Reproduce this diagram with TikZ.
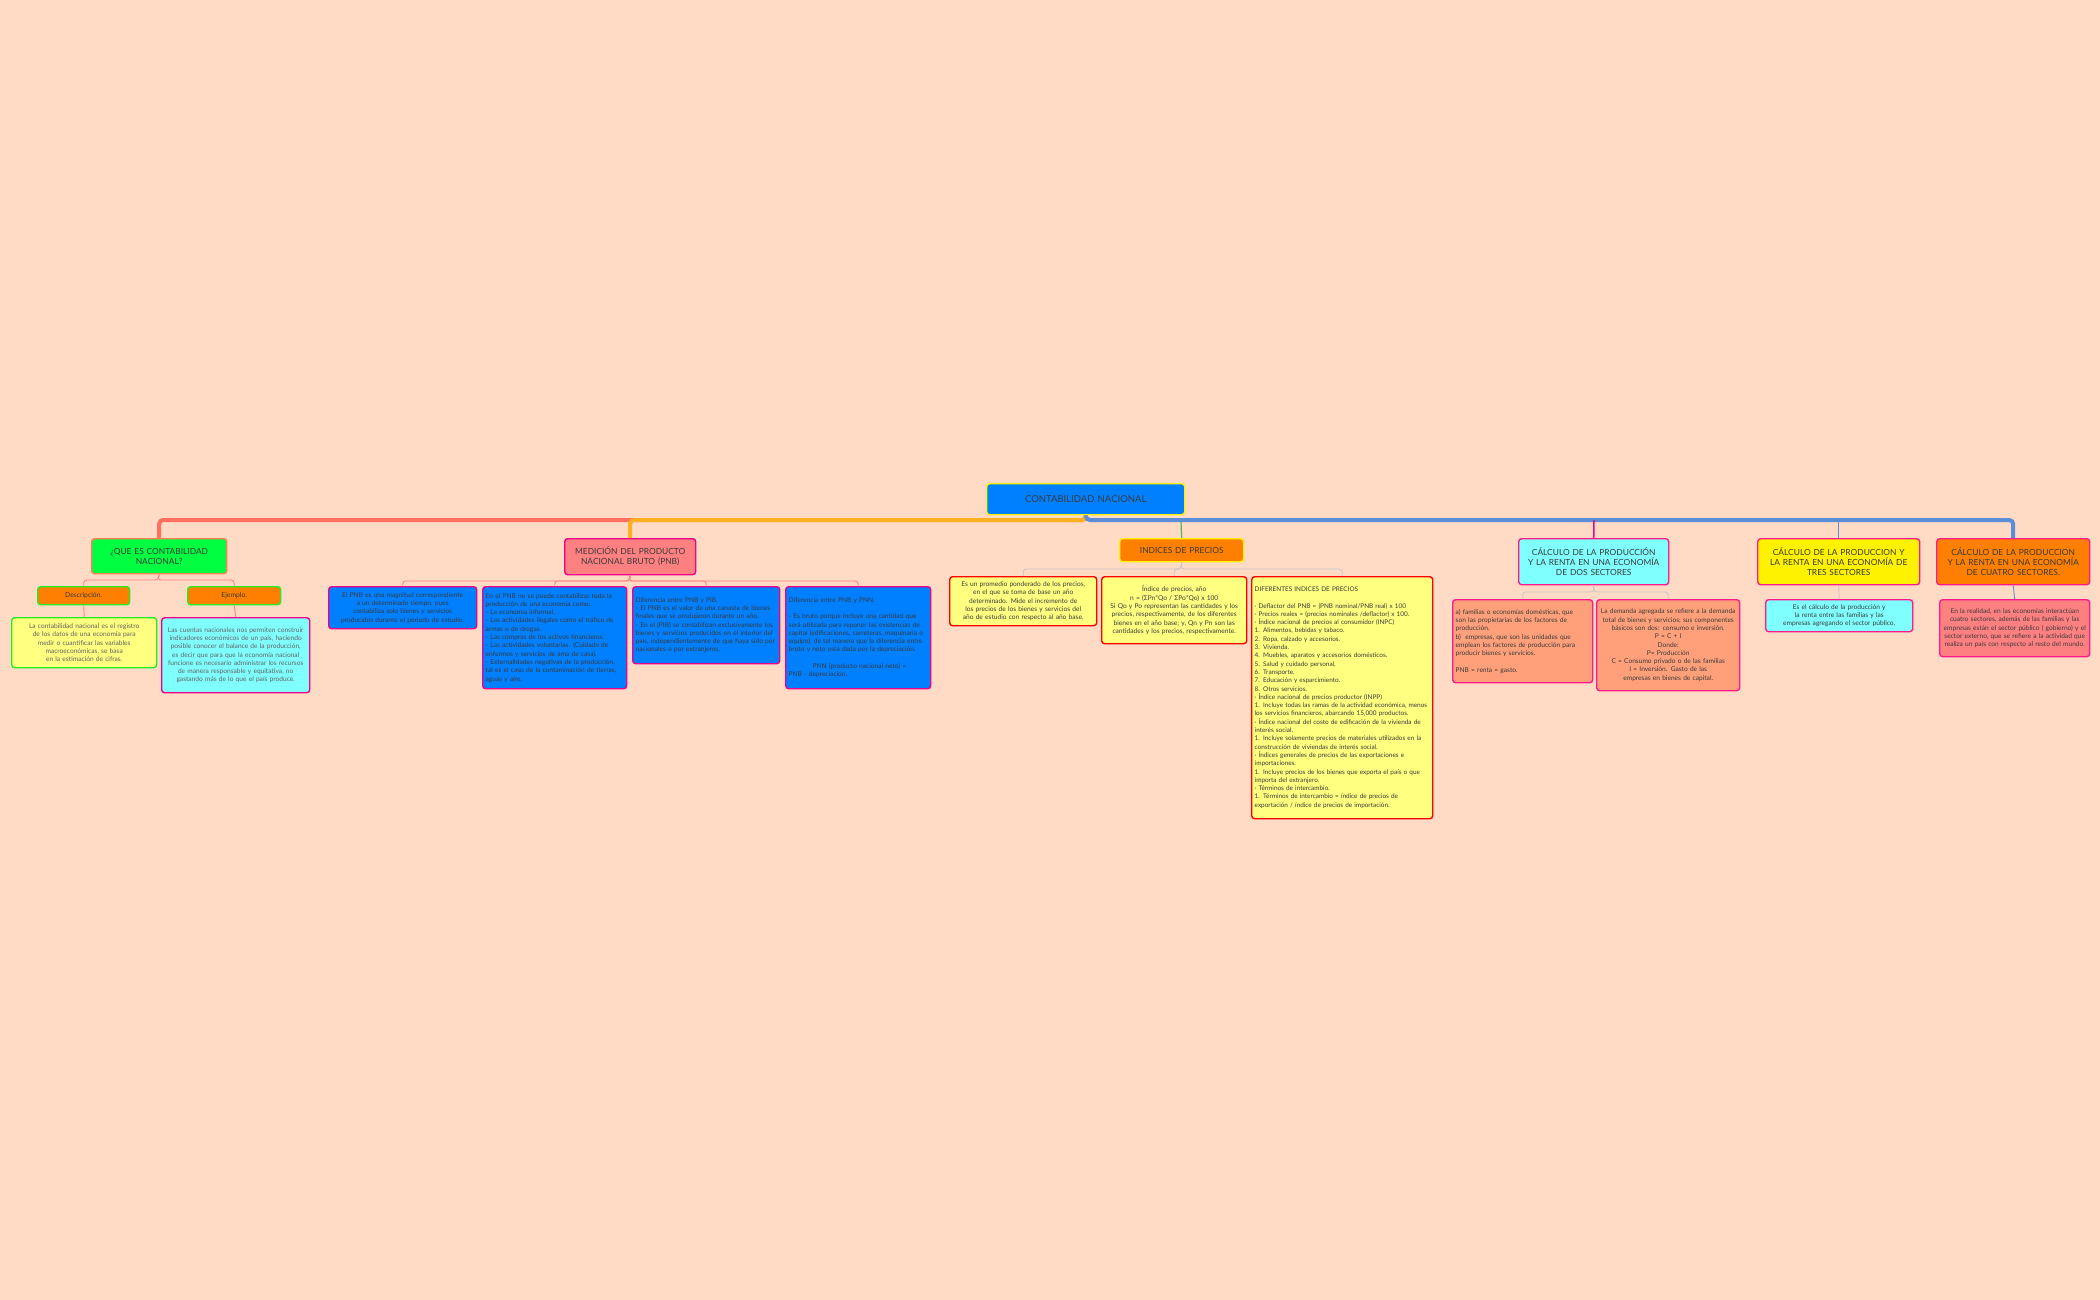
\documentclass[tikz,border=0pt]{standalone}
\usepackage{fontspec}
\setmainfont{Lato}
\hyphenpenalty=10000 \exhyphenpenalty=10000
\definecolor{bg}{HTML}{FFDBC5}
\definecolor{txt}{HTML}{3A3A3A}
\definecolor{bluef}{HTML}{0080FF}
\definecolor{greenf}{HTML}{00FF40}
\definecolor{greenb}{HTML}{22EE22}
\definecolor{coral}{HTML}{FF7F50}
\definecolor{salmon}{HTML}{FF8080}
\definecolor{orangef}{HTML}{FF8000}
\definecolor{cyanf}{HTML}{80FFFF}
\definecolor{lyel}{HTML}{FFFF80}
\definecolor{pinkb}{HTML}{FF1A8C}
\definecolor{lsal}{HTML}{FFA07A}
\definecolor{barred}{HTML}{FF7060}
\definecolor{barorange}{HTML}{FFB020}
\definecolor{barblue}{HTML}{5B8DD9}
\definecolor{linegrey}{HTML}{C8C8C8}
\tikzset{
  bx/.style={draw, rounded corners=3pt, line width=1.4pt, anchor=north west, inner sep=3pt,
     font=\fontsize{6.6}{8.3}\selectfont, text=txt},
  ttl/.style={bx, font=\fontsize{8.4}{10}\selectfont, align=center, inner sep=2pt},
  mainln/.style={line width=4pt, rounded corners=4pt},
  subln/.style={line width=0.9pt, rounded corners=3pt},
  tw/.style={text width=#1pt-5pt},
}
\begin{document}
\begin{tikzpicture}[x=1pt,y=-1pt]
\fill[bg] (0,0) rectangle (2100,1300);
\useasboundingbox (0,0) rectangle (2100,1300);

% root
\node[ttl, draw=yellow, fill=bluef, text width=194pt, minimum height=31pt, font=\fontsize{9.5}{11}\selectfont] (root) at (986,483) {CONTABILIDAD NACIONAL};

% level 1
\node[ttl, draw=coral, fill=greenf, text width=131pt, minimum height=35pt] (que) at (91,538) {¿QUE ES CONTABILIDAD\\NACIONAL?};
\node[ttl, draw=magenta, fill=salmon, text width=127pt, minimum height=36pt] (med) at (564,538) {MEDICIÓN DEL PRODUCTO\\NACIONAL BRUTO (PNB)};
\node[ttl, draw=yellow, fill=orangef, text width=120pt, minimum height=23pt] (ind) at (1119,538) {INDICES DE PRECIOS};
\node[ttl, draw=pinkb, fill=cyanf, text width=146pt, minimum height=46pt] (dos) at (1518,538) {CÁLCULO DE LA PRODUCCIÓN\\Y LA RENTA EN UNA ECONOMÍA\\DE DOS SECTORES};
\node[ttl, draw=pinkb, fill=yellow, text width=158pt, minimum height=46pt] (tres) at (1757,538) {CÁLCULO DE LA PRODUCCION Y\\LA RENTA EN UNA ECONOMÍA DE\\TRES SECTORES};
\node[ttl, draw=pinkb, fill=orangef, text width=149pt, minimum height=46pt] (cua) at (1936,538) {CÁLCULO DE LA PRODUCCION\\Y LA RENTA EN UNA ECONOMÍA\\DE CUATRO SECTORES.};

% main connectors
\draw[mainln, barred] (root.south) -- (1086,520) -| (que.north);
\draw[mainln, barorange] (root.south) -- (1086,520) -| (med.north);
\draw[mainln, barblue] (root.south) -- (1086,520) -| (cua.north);
\draw[line width=1.5pt, barblue] (1086,520) -| (tres.north);
\draw[line width=1.5pt, magenta] (1594,520) -- (dos.north);
\draw[line width=1.2pt, green!60!black!70] (1181,522) -- (ind.north);

% que branch
\node[ttl, draw=greenb, fill=orangef, text width=88pt, minimum height=18pt, font=\fontsize{6.8}{8}\selectfont] (desc) at (37,586) {Descripción.};
\node[ttl, draw=greenb, fill=orangef, text width=89pt, minimum height=18pt, font=\fontsize{6.8}{8}\selectfont] (ej) at (187,586) {Ejemplo.};
\node[bx, draw=greenb, fill=lyel, tw=144, minimum height=50pt, align=center, text=txt!80] (desct) at (11,617) {La contabilidad nacional es el registro de los datos de una economía para\\medir o cuantificar las variables macroeconómicas, se basa en la estimación de cifras.};
\node[bx, draw=magenta, fill=cyanf, tw=147, minimum height=75pt, align=center, text=txt!80] (ejt) at (161,617) {Las cuentas nacionales nos permiten construir indicadores económicos de un país, haciendo posible conocer el balance de la producción, es decir que para que la economía nacional funcione es necesario administrar los recursos de manera responsable y equitativa, no gastando más de lo que el país produce.};
\draw[subln, salmon] (que.south) -- (158,580) -| (desc.north);
\draw[subln, salmon] (que.south) -- (158,580) -| (ej.north);
\draw[subln, salmon] (desc.south) -- (desct.north);
\draw[subln, salmon] (ej.south) -- (ejt.north);

% medicion branch
\node[bx, draw=magenta, fill=bluef, tw=147, minimum height=42pt, align=center] (p1) at (328,586) {El PNB es una magnitud correspondiente a un determinado tiempo, pues contabiliza solo bienes y servicios producidos durante el periodo de estudio.};
\node[bx, draw=magenta, fill=bluef, tw=143, minimum height=102pt, align=left] (p2) at (482,586) {En el PNB no se puede contabilizar toda la producción de una economía como:\\- La economía informal.\\- Las actividades ilegales como el tráfico de armas o de drogas.\\- Las compras de los activos financieros.\\- Las actividades voluntarias. (Cuidado de enfermos y servicios de ama de casa).\\- Externalidades negativas de la producción, tal es el caso de la contaminación de tierras, aguas y aire.};
\node[bx, draw=magenta, fill=bluef, tw=146, minimum height=77pt, align=left] (p3) at (632,586) {Diferencia entre PNB y PIB.\\- El PNB es el valor de una canasta de bienes finales que se produjeron durante un año.\\- En el (PIB) se contabilizan exclusivamente los bienes y servicios producidos en el interior del país, independientemente de que haya sido por nacionales o por extranjeros.};
\node[bx, draw=magenta, fill=bluef, tw=144, minimum height=102pt, align=left] (p4) at (785,586) {Diferencia entre PNB y PNN.\\[8pt]- Es bruto porque incluye una cantidad que será utilizada para reponer las existencias de capital (edificaciones, carreteras, maquinaria o equipo), de tal manera que la diferencia entre bruto y neto está dada por la depreciación.\\[8pt]\hspace*{24pt}PNN (producto nacional neto) =\\PNB - depreciación.};
\foreach \c in {p1,p2,p3,p4}{\draw[subln, salmon] (med.south) -- (629,581) -| (\c.north);}

% indices branch
\node[bx, draw=red, fill=lyel, tw=146, minimum height=49pt, align=center] (i1) at (949,576) {Es un promedio ponderado de los precios, en el que se toma de base un año determinado. Mide el incremento de los precios de los bienes y servicios del año de estudio con respecto al año base.};
\node[bx, draw=red, fill=lyel, tw=144, minimum height=67pt, align=center] (i2) at (1101,576) {Índice de precios, año\\n = (ΣPn*Qo / ΣPo*Qo) x 100\\Si Qo y Po representan las cantidades y los precios, respectivamente, de los diferentes bienes en el año base; y, Qn y Pn son las cantidades y los precios, respectivamente.};
\node[bx, draw=red, fill=lyel, tw=180, minimum height=242pt, align=left, font=\fontsize{6.4}{8.3}\selectfont] (i3) at (1251,576) {DIFERENTES INDICES DE PRECIOS\\[8pt]· Deflactor del PNB = (PNB nominal/PNB real) x 100\\· Precios reales = (precios nominales /deflactor) x 100.\\· Índice nacional de precios al consumidor (INPC)\\1. Alimentos, bebidas y tabaco.\\2. Ropa, calzado y accesorios.\\3. Vivienda.\\4. Muebles, aparatos y accesorios domésticos.\\5. Salud y cuidado personal.\\6. Transporte.\\7. Educación y esparcimiento.\\8. Otros servicios.\\· Índice nacional de precios productor (INPP)\\1. Incluye todas las ramas de la actividad económica, menos los servicios financieros, abarcando 15,000 productos.\\· Índice nacional del costo de edificación de la vivienda de interés social.\\1. Incluye solamente precios de materiales utilizados en la construcción de viviendas de interés social.\\· Índices generales de precios de las exportaciones e importaciones.\\1. Incluye precios de los bienes que exporta el país o que importa del extranjero.\\· Términos de intercambio.\\1. Términos de intercambio = índice de precios de exportación / índice de precios de importación.};
\foreach \c in {i1,i2,i3}{\draw[subln, linegrey] (ind.south) -- (1181,569) -| (\c.north);}

% dos branch
\node[bx, draw=pinkb, fill=lsal, tw=139, minimum height=83pt, align=left] (d1) at (1452,599) {a) familias o economías domésticas, que son las propietarias de los factores de producción.\\b)\ \ empresas, que son las unidades que emplean los factores de producción para producir bienes y servicios.\\[8pt]PNB = renta = gasto.};
\node[bx, draw=pinkb, fill=lsal, tw=142, minimum height=91pt, align=center] (d2) at (1596,599) {La demanda agregada se refiere a la demanda total de bienes y servicios; sus componentes básicos son dos: consumo e inversión.\\P = C + I\\Donde:\\P= Producción\\C = Consumo privado o de las familias\\I = Inversión. Gasto de las empresas en bienes de capital.};
\foreach \c in {d1,d2}{\draw[subln, linegrey] (dos.south) -- (1594,592) -| (\c.north);}

\node[bx, draw=pinkb, fill=cyanf, tw=146, minimum height=32pt, align=center] (t1) at (1765,599) {Es el cálculo de la producción y la renta entre las familias y las empresas agregando el sector público.};
\draw[subln, linegrey] (tres.south) -- (t1.north);
\node[bx, draw=pinkb, fill=salmon, tw=149, minimum height=57pt, align=center] (c1) at (1939,599) {En la realidad, en las economías interactúan cuatro sectores, además de las familias y las empresas están el sector público ( gobierno) y el sector externo, que se refiere a la actividad que realiza un país con respecto al resto del mundo.};
\draw[subln, barblue] (cua.south) -- (c1.north);
\end{tikzpicture}
\end{document}
